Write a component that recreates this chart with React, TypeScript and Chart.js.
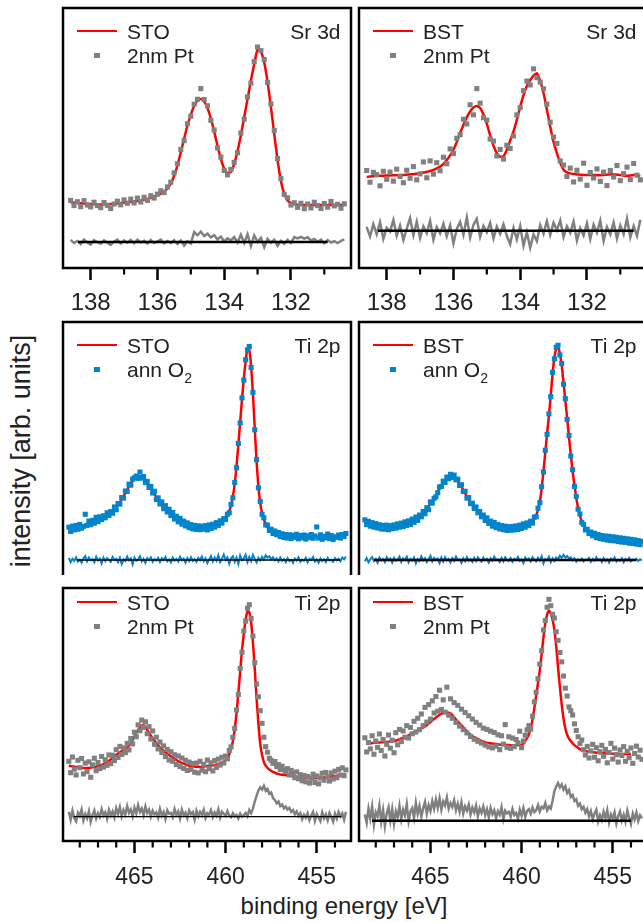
import React, { useEffect, useRef } from 'react';
import { Chart, registerables } from 'chart.js';

Chart.register(...registerables);

const FONT = '"Liberation Sans", Arial, Helvetica, sans-serif';
const GRAY = '#808080';
const BLUE = '#0085cc';
const RED = '#ff0000';
const TEXT = '#222222';

// ---------- energy grids (binding energy, eV) ----------
const SR_E = [
  138.6, 138.5, 138.4, 138.3, 138.2, 138.1, 138.0, 137.9, 137.8, 137.7,
  137.6, 137.5, 137.4, 137.3, 137.2, 137.1, 137.0, 136.9, 136.8, 136.7,
  136.6, 136.5, 136.4, 136.3, 136.2, 136.1, 136.0, 135.9, 135.8, 135.7,
  135.6, 135.5, 135.4, 135.3, 135.2, 135.1, 135.0, 134.9, 134.8, 134.7,
  134.6, 134.5, 134.4, 134.3, 134.2, 134.1, 134.0, 133.9, 133.8, 133.7,
  133.6, 133.5, 133.4, 133.3, 133.2, 133.1, 133.0, 132.9, 132.8, 132.7,
  132.6, 132.5, 132.4, 132.3, 132.2, 132.1, 132.0, 131.9, 131.8, 131.7,
  131.6, 131.5, 131.4, 131.3, 131.2, 131.1, 131.0, 130.9, 130.8, 130.7,
  130.6, 130.5, 130.4,
];

const TI_E = [
  468.6, 468.5, 468.4, 468.3, 468.2, 468.1, 468.0, 467.9, 467.8, 467.7,
  467.6, 467.5, 467.4, 467.3, 467.2, 467.1, 467.0, 466.9, 466.8, 466.7,
  466.6, 466.5, 466.4, 466.3, 466.2, 466.1, 466.0, 465.9, 465.8, 465.7,
  465.6, 465.5, 465.4, 465.3, 465.2, 465.1, 465.0, 464.9, 464.8, 464.7,
  464.6, 464.5, 464.4, 464.3, 464.2, 464.1, 464.0, 463.9, 463.8, 463.7,
  463.6, 463.5, 463.4, 463.3, 463.2, 463.1, 463.0, 462.9, 462.8, 462.7,
  462.6, 462.5, 462.4, 462.3, 462.2, 462.1, 462.0, 461.9, 461.8, 461.7,
  461.6, 461.5, 461.4, 461.3, 461.2, 461.1, 461.0, 460.9, 460.8, 460.7,
  460.6, 460.5, 460.4, 460.3, 460.2, 460.1, 460.0, 459.9, 459.8, 459.7,
  459.6, 459.5, 459.4, 459.3, 459.2, 459.1, 459.0, 458.9, 458.8, 458.7,
  458.6, 458.5, 458.4, 458.3, 458.2, 458.1, 458.0, 457.9, 457.8, 457.7,
  457.6, 457.5, 457.4, 457.3, 457.2, 457.1, 457.0, 456.9, 456.8, 456.7,
  456.6, 456.5, 456.4, 456.3, 456.2, 456.1, 456.0, 455.9, 455.8, 455.7,
  455.6, 455.5, 455.4, 455.3, 455.2, 455.1, 455.0, 454.9, 454.8, 454.7,
  454.6, 454.5, 454.4, 454.3, 454.2, 454.1, 454.0, 453.9, 453.8, 453.7,
  453.6, 453.5, 453.4,
];

// ---------- tick values / labels ----------
const SR_MAJOR = [138, 136, 134, 132];
const SR_MINOR = [137, 135, 133, 131];
const TI_MAJOR = [465, 460, 455];
const TI_MINOR = [468, 467, 466, 464, 463, 462, 461, 459, 458, 457, 456, 454];

// ---------- Sr 3d, STO reference vs 2nm Pt ----------
const STO_SR_FIT = [
  25.2, 25.1, 25.0, 24.9, 24.8, 24.7, 24.6, 24.5, 24.4, 24.4,
  24.4, 24.5, 24.6, 24.7, 24.8, 25.0, 25.1, 25.3, 25.4, 25.6,
  25.8, 26.0, 26.3, 26.6, 27.0, 27.5, 28.0, 28.6, 29.4, 30.6,
  32.5, 35.5, 39.5, 44.5, 49.8, 54.8, 59.0, 62.3, 64.4, 65.0,
  64.0, 61.5, 57.5, 52.5, 47.0, 42.0, 38.3, 36.5, 37.0, 40.0,
  45.0, 51.0, 58.0, 65.0, 72.0, 78.5, 84.0, 83.2, 79.0, 71.5,
  62.0, 51.5, 41.5, 33.5, 28.5, 26.0, 25.0, 24.5, 24.3, 24.2,
  24.2, 24.2, 24.2, 24.2, 24.2, 24.2, 24.2, 24.2, 24.2, 24.2,
  24.2, 24.2, 24.2,
];
const STO_SR_PT = [
  26.0, 24.0, 25.5, 23.6, 25.9, 24.2, 23.5, 25.3, 24.0, 23.2,
  25.2, 24.1, 22.9, 24.6, 25.7, 24.3, 26.2, 24.9, 26.5, 25.0,
  26.9, 25.4, 27.2, 26.0, 27.8, 26.9, 28.4, 29.7, 29.0, 31.2,
  33.0, 36.6, 40.1, 45.6, 49.0, 55.5, 58.4, 63.0, 64.9, 69.0,
  64.8, 62.4, 56.8, 53.1, 46.2, 42.7, 37.5, 35.8, 37.9, 40.6,
  44.3, 51.9, 57.2, 65.8, 71.1, 79.4, 85.0, 83.6, 80.2, 71.4,
  63.1, 52.9, 42.1, 34.4, 28.3, 27.0, 24.2, 25.1, 23.3, 24.9,
  22.8, 24.6, 23.1, 25.3, 24.0, 22.9, 24.8, 23.4, 25.6, 23.9,
  24.5, 23.0, 24.7,
];
const STO_SR_DIFF = [
  10.8, 9.6, 10.4, 9.2, 10.9, 9.8, 9.0, 10.7, 9.9, 9.3,
  10.6, 9.7, 8.9, 10.2, 10.9, 9.4, 10.6, 9.7, 10.8, 9.5,
  10.9, 9.8, 10.5, 9.4, 10.8, 9.6, 10.2, 10.9, 9.5, 10.4,
  9.6, 10.7, 9.3, 10.6, 8.6, 10.3, 9.4, 13.8, 12.6, 14.0,
  12.3, 13.2, 11.8, 12.6, 11.0, 12.1, 10.2, 11.4, 10.6, 11.9,
  9.8, 12.8, 9.6, 13.0, 8.4, 12.5, 10.1, 11.6, 8.0, 11.2,
  9.7, 10.9, 8.5, 10.4, 9.3, 10.8, 9.6, 11.9, 11.4, 12.0,
  11.3, 11.8, 10.6, 11.2, 10.1, 10.9, 9.5, 10.7, 9.8, 10.3,
  9.6, 10.4, 11.0,
];
const STO_SR_ZERO_X = [138.38, 130.9];
const STO_SR_ZERO_Y = [10, 10];

// ---------- Sr 3d, BST reference vs 2nm Pt ----------
const BST_SR_FIT = [
  35.0, 35.2, 35.3, 35.4, 35.5, 35.5, 35.6, 35.6, 35.7, 35.7,
  35.8, 35.8, 35.9, 36.0, 36.1, 36.3, 36.5, 36.7, 37.0, 37.3,
  37.7, 38.3, 39.0, 40.0, 41.5, 43.3, 45.5, 48.5, 52.0, 55.0,
  58.0, 60.2, 61.7, 62.3, 61.5, 59.0, 55.5, 51.0, 47.0, 44.2,
  42.8, 43.0, 45.5, 49.0, 52.5, 57.0, 62.0, 66.5, 70.0, 72.3,
  74.0, 74.9, 72.0, 67.3, 61.0, 54.3, 48.5, 44.2, 40.5, 37.8,
  36.8, 36.4, 36.2, 36.0, 35.9, 35.8, 35.8, 35.8, 35.8, 35.7,
  35.7, 35.8, 35.9, 36.0, 36.0, 35.9, 35.8, 35.6, 35.5, 35.6,
  35.8, 35.6, 35.4,
];
const BST_SR_PT = [
  37.5, 33.0, 36.8, 35.9, 31.6, 37.2, 34.1, 36.9, 33.4, 38.0,
  35.2, 32.8, 37.6, 34.5, 39.0, 33.9, 36.2, 40.8, 34.7, 41.2,
  36.1, 40.5, 37.4, 42.6, 40.1, 45.8, 44.0, 49.9, 51.3, 57.2,
  55.4, 62.8, 58.9, 69.0, 63.4, 57.8, 56.9, 49.6, 48.8, 43.1,
  45.6, 41.9, 47.2, 46.0, 50.8, 58.9, 61.7, 68.2, 71.9, 70.4,
  76.6, 73.2, 71.5, 68.9, 63.0, 56.1, 50.4, 47.9, 41.2, 39.6,
  35.2, 38.4, 33.1, 37.6, 34.2, 40.3, 31.8, 36.7, 34.6, 38.1,
  33.3, 36.9, 31.7, 37.5, 35.0, 39.4, 33.6, 36.3, 38.8, 34.0,
  40.2, 35.7, 33.9,
];
const BST_SR_DIFF = [
  15.8, 12.1, 16.9, 13.0, 17.6, 11.2, 15.5, 14.0, 18.5, 12.4,
  16.3, 10.8, 15.1, 19.2, 12.6, 17.8, 11.5, 16.0, 13.4, 18.1,
  10.9, 15.7, 13.3, 17.0, 12.2, 16.4, 9.5, 15.0, 17.7, 12.8,
  19.4, 11.7, 16.6, 18.9, 12.0, 16.2, 13.8, 17.3, 11.4, 15.9,
  13.1, 16.8, 12.3, 9.2, 15.4, 11.0, 16.1, 8.6, 13.7, 7.8,
  12.9, 10.3, 16.5, 13.2, 18.0, 12.7, 17.4, 14.6, 18.3, 11.9,
  16.0, 13.5, 17.9, 10.6, 15.3, 12.5, 17.2, 11.1, 16.7, 13.6,
  18.2, 10.4, 15.8, 12.9, 17.5, 11.3, 16.4, 13.0, 19.0, 11.8,
  16.1, 12.4, 18.6,
];
const BST_SR_ZERO_X = [138.26, 130.6];
const BST_SR_ZERO_Y = [14.3, 14.3];

// ---------- Ti 2p, STO reference vs annealed in O2 ----------
const STO_TI_FIT_O2 = [
  18.0, 18.2, 18.4, 18.6, 18.8, 19.0, 19.2, 19.4, 19.6, 19.9,
  20.2, 20.5, 20.8, 21.1, 21.4, 21.7, 22.0, 22.3, 22.6, 23.0,
  23.4, 23.8, 24.3, 24.8, 25.4, 26.1, 26.9, 27.8, 28.8, 29.9,
  31.1, 32.4, 33.7, 35.0, 36.2, 37.2, 38.0, 38.6, 38.9, 39.0,
  38.7, 38.1, 37.3, 36.3, 35.2, 34.1, 33.0, 31.9, 30.9, 29.9,
  28.9, 28.0, 27.1, 26.3, 25.5, 24.8, 24.1, 23.4, 22.8, 22.2,
  21.7, 21.2, 20.8, 20.4, 20.0, 19.7, 19.4, 19.2, 19.0, 18.9,
  18.8, 18.7, 18.7, 18.7, 18.7, 18.8, 18.9, 19.0, 19.2, 19.4,
  19.6, 19.9, 20.2, 20.6, 21.1, 21.7, 22.5, 23.6, 25.2, 27.6,
  31.0, 36.0, 43.0, 51.5, 60.5, 69.5, 77.5, 84.5, 89.5, 89.0,
  82.5, 71.5, 58.0, 45.0, 35.0, 28.5, 24.5, 22.0, 20.3, 19.1,
  18.2, 17.5, 17.0, 16.6, 16.3, 16.0, 15.8, 15.6, 15.5, 15.4,
  15.3, 15.2, 15.2, 15.2, 15.2, 15.1, 15.1, 15.1, 15.1, 15.1,
  15.0, 15.0, 15.0, 15.0, 15.0, 15.0, 15.0, 15.0, 15.0, 15.0,
  15.0, 15.0, 15.0, 15.0, 15.0, 15.0, 15.0, 15.1, 15.2, 15.3,
  15.4, 15.5, 15.6,
];
const STO_TI_O2 = [
  18.9, 17.2, 19.3, 17.8, 19.6, 18.1, 20.0, 18.5, 19.2, 24.0,
  19.6, 21.3, 19.9, 21.6, 20.5, 22.8, 21.1, 23.0, 21.9, 23.4,
  22.6, 24.6, 23.5, 25.1, 24.4, 26.9, 25.8, 28.3, 28.0, 30.6,
  30.4, 33.2, 33.0, 35.9, 35.5, 37.9, 38.4, 39.1, 38.2, 40.7,
  38.3, 38.9, 36.6, 37.0, 34.6, 35.0, 32.4, 33.1, 29.8, 30.5,
  28.1, 28.9, 26.2, 27.4, 24.9, 26.0, 23.5, 24.7, 22.1, 23.2,
  21.0, 22.4, 20.1, 21.3, 19.4, 20.6, 18.7, 19.9, 18.2, 19.6,
  18.0, 19.4, 17.9, 19.3, 18.1, 19.5, 17.8, 19.8, 18.4, 20.1,
  18.9, 20.7, 19.6, 21.4, 20.5, 22.3, 21.9, 24.0, 24.6, 27.9,
  30.5, 36.6, 42.4, 52.0, 60.1, 70.0, 77.0, 85.1, 89.0, 90.3,
  82.0, 72.2, 57.4, 45.6, 34.5, 29.1, 24.0, 22.6, 19.8, 19.7,
  17.6, 18.1, 16.4, 17.4, 15.9, 16.8, 15.2, 16.3, 14.8, 16.0,
  14.6, 15.9, 14.4, 15.7, 14.9, 16.1, 14.3, 15.6, 14.7, 15.8,
  14.2, 15.5, 14.8, 16.0, 14.5, 15.4, 19.0, 14.6, 15.9, 14.1,
  15.3, 14.7, 16.2, 14.4, 15.6, 14.0, 15.1, 14.9, 15.8, 14.6,
  16.0, 15.2, 16.4,
];
const STO_TI_O2_DIFF = [
  6.8, 5.1, 6.4, 5.6, 7.0, 5.3, 6.1, 4.9, 6.6, 7.5,
  5.4, 6.9, 5.8, 6.3, 5.0, 7.2, 5.7, 6.5, 4.6, 6.9,
  5.5, 6.7, 6.0, 5.2, 7.1, 5.9, 6.4, 5.1, 6.8, 4.3,
  6.2, 5.5, 7.3, 5.8, 6.6, 4.2, 6.9, 5.6, 6.1, 7.4,
  5.3, 6.4, 4.8, 6.7, 5.9, 7.0, 5.2, 6.3, 5.7, 6.8,
  5.1, 6.6, 5.9, 7.1, 5.4, 6.2, 5.0, 6.9, 5.7, 6.4,
  5.3, 7.2, 5.8, 6.5, 4.9, 6.7, 5.5, 7.0, 5.6, 6.3,
  5.2, 6.8, 5.9, 7.3, 5.4, 6.6, 4.7, 6.1, 7.5, 5.3,
  6.9, 5.6, 7.8, 5.1, 6.4, 8.1, 5.9, 7.0, 4.5, 6.6,
  7.4, 5.2, 6.9, 4.4, 7.7, 5.8, 6.5, 8.0, 5.1, 7.1,
  5.5, 7.9, 6.4, 5.0, 6.8, 5.7, 7.2, 6.1, 7.8, 6.9,
  7.4, 6.2, 7.0, 5.8, 6.6, 5.4, 6.9, 5.6, 6.3, 5.1,
  6.7, 5.5, 6.0, 4.8, 6.5, 5.7, 6.9, 5.2, 6.1, 5.6,
  6.8, 5.0, 6.4, 5.9, 7.1, 5.3, 6.2, 4.9, 6.6, 5.5,
  6.3, 5.1, 6.8, 5.7, 6.0, 5.2, 6.7, 5.8, 6.4, 5.4,
  6.9, 6.2, 7.3,
];
const STO_TI_O2_ZERO_X = [468.16, 453.72];
const STO_TI_O2_ZERO_Y = [5.9, 5.9];

// ---------- Ti 2p, BST reference vs annealed in O2 ----------
const BST_TI_FIT_O2 = [
  20.6, 20.4, 20.2, 20.0, 19.8, 19.6, 19.4, 19.3, 19.1, 19.0,
  18.9, 18.9, 18.8, 18.8, 18.8, 18.9, 19.0, 19.1, 19.3, 19.5,
  19.6, 19.8, 20.0, 20.2, 20.5, 20.8, 21.1, 21.4, 21.7, 22.1,
  22.8, 23.7, 24.6, 25.5, 26.4, 27.3, 28.2, 29.1, 30.0, 31.4,
  32.8, 34.2, 35.4, 36.4, 37.3, 38.0, 38.5, 38.8, 38.9, 38.6,
  38.0, 37.2, 36.1, 34.9, 33.6, 32.3, 31.0, 29.8, 28.7, 27.8,
  27.0, 26.1, 25.2, 24.4, 23.6, 22.9, 22.2, 21.6, 21.0, 20.5,
  20.1, 19.7, 19.4, 19.1, 18.9, 18.7, 18.6, 18.5, 18.4, 18.4,
  18.4, 18.4, 18.5, 18.6, 18.7, 18.9, 19.1, 19.3, 19.6, 19.9,
  20.2, 20.6, 21.2, 22.2, 23.6, 25.8, 29.0, 34.0, 41.0, 48.5,
  56.0, 63.0, 71.0, 79.5, 86.0, 89.5, 90.3, 87.5, 83.0, 76.0,
  69.0, 62.0, 54.5, 47.5, 41.0, 35.5, 30.5, 26.5, 23.5, 21.2,
  19.5, 18.3, 17.5, 16.9, 16.4, 16.0, 15.7, 15.4, 15.2, 15.0,
  14.8, 14.7, 14.6, 14.5, 14.4, 14.3, 14.2, 14.1, 14.0, 13.9,
  13.8, 13.7, 13.6, 13.5, 13.4, 13.3, 13.2, 13.1, 13.0, 12.9,
  12.8, 12.7, 12.6,
];
const BST_TI_O2 = [
  21.8, 19.9, 21.2, 19.3, 20.7, 18.9, 20.3, 18.6, 19.9, 18.2,
  19.6, 18.1, 19.7, 17.9, 19.5, 18.3, 19.8, 18.5, 20.2, 18.9,
  20.5, 19.1, 21.0, 19.6, 21.4, 20.0, 22.1, 20.8, 22.9, 21.6,
  23.7, 23.0, 25.1, 24.2, 26.6, 25.8, 28.9, 28.4, 30.3, 30.9,
  32.5, 34.8, 35.0, 37.1, 36.6, 38.7, 38.1, 39.8, 38.5, 39.5,
  37.6, 37.9, 35.4, 35.7, 33.0, 33.1, 30.4, 30.6, 28.2, 28.4,
  26.3, 26.9, 24.6, 25.1, 23.0, 23.7, 21.5, 22.6, 20.4, 21.3,
  19.3, 20.8, 18.7, 20.0, 18.2, 19.5, 17.9, 19.3, 17.6, 19.1,
  17.7, 19.2, 17.8, 19.4, 18.0, 19.7, 18.4, 20.2, 18.9, 20.6,
  19.5, 21.3, 20.5, 22.9, 23.0, 26.4, 28.6, 34.9, 40.7, 49.3,
  55.6, 63.7, 70.5, 80.1, 85.4, 90.0, 90.8, 87.0, 83.6, 75.4,
  69.7, 61.5, 55.1, 47.0, 41.6, 35.0, 31.1, 26.0, 24.1, 20.7,
  20.0, 17.8, 18.1, 16.4, 17.0, 15.5, 16.5, 14.8, 16.0, 14.4,
  15.6, 14.1, 15.4, 13.8, 15.3, 13.6, 15.1, 13.5, 14.9, 13.2,
  14.7, 13.0, 14.5, 12.9, 14.3, 12.6, 14.1, 12.5, 13.9, 12.2,
  13.6, 12.0, 13.3,
];
const BST_TI_O2_DIFF = [
  5.4, 6.7, 5.0, 6.2, 7.1, 5.5, 6.4, 4.8, 6.9, 5.7,
  6.3, 5.1, 7.0, 5.8, 6.5, 4.9, 6.8, 5.6, 6.1, 7.3,
  5.2, 6.6, 5.9, 7.2, 5.0, 6.4, 5.7, 6.9, 4.6, 6.3,
  5.5, 7.4, 5.8, 6.7, 5.1, 6.2, 7.6, 5.4, 6.8, 5.9,
  6.5, 4.7, 6.9, 5.3, 7.0, 5.8, 6.4, 5.0, 6.7, 5.6,
  7.3, 5.9, 6.2, 4.8, 6.6, 5.4, 7.1, 5.7, 6.3, 5.2,
  6.8, 5.5, 7.0, 6.1, 5.3, 6.9, 5.8, 6.4, 4.9, 6.6,
  5.6, 7.2, 5.9, 6.3, 5.1, 6.8, 5.4, 7.0, 6.0, 5.5,
  6.7, 5.2, 6.4, 5.8, 7.1, 5.6, 6.2, 4.7, 6.9, 5.9,
  6.5, 5.3, 7.0, 6.1, 5.4, 6.8, 5.7, 7.4, 4.6, 6.3,
  5.8, 7.2, 5.1, 6.6, 5.5, 6.9, 6.2, 7.6, 6.8, 8.0,
  6.9, 7.5, 6.4, 7.0, 5.8, 6.6, 5.3, 6.2, 5.7, 6.5,
  5.4, 6.1, 5.9, 6.8, 5.2, 6.4, 5.6, 7.0, 5.8, 6.3,
  5.1, 6.7, 5.5, 6.2, 4.9, 6.5, 5.7, 6.9, 5.3, 6.0,
  5.6, 6.6, 5.0, 6.3, 5.8, 6.8, 5.4, 6.1, 5.9, 6.4,
  5.5, 6.2, 5.8,
];
const BST_TI_O2_ZERO_X = [468.1, 453.7];
const BST_TI_O2_ZERO_Y = [5.9, 5.9];

// ---------- Ti 2p, STO reference vs 2nm Pt ----------
const STO_TI_FIT_PT = [
  29.8, 29.6, 29.5, 29.4, 29.3, 29.2, 29.1, 29.0, 28.9, 28.9,
  28.9, 28.9, 29.0, 29.1, 29.2, 29.4, 29.6, 29.8, 30.1, 30.4,
  30.8, 31.2, 31.7, 32.2, 32.8, 33.4, 34.0, 34.6, 35.1, 35.5,
  35.9, 36.3, 36.9, 37.7, 38.8, 40.0, 41.3, 42.6, 43.8, 44.8,
  45.6, 45.8, 45.0, 43.9, 42.7, 41.6, 40.6, 39.6, 38.7, 37.8,
  37.0, 36.3, 35.6, 35.0, 34.5, 34.0, 33.5, 33.0, 32.5, 32.0,
  31.6, 31.2, 30.9, 30.6, 30.3, 30.0, 29.8, 29.6, 29.5, 29.4,
  29.3, 29.3, 29.3, 29.3, 29.4, 29.5, 29.6, 29.7, 29.8, 29.9,
  30.0, 30.2, 30.4, 30.7, 31.0, 31.4, 32.0, 32.9, 34.3, 36.5,
  39.5, 44.0, 50.5, 58.5, 67.0, 75.5, 82.0, 87.5, 90.8, 90.5,
  86.5, 78.5, 68.0, 56.5, 46.5, 38.5, 34.0, 31.2, 29.8, 28.9,
  28.2, 27.7, 27.3, 27.0, 26.7, 26.5, 26.3, 26.2, 26.1, 26.0,
  25.9, 25.8, 25.7, 25.6, 25.5, 25.4, 25.3, 25.2, 25.1, 25.0,
  25.0, 24.9, 24.9, 24.8, 24.8, 24.8, 24.8, 24.9, 24.9, 25.0,
  25.1, 25.2, 25.3, 25.4, 25.5, 25.6, 25.7, 25.8, 25.9, 26.0,
  26.1, 26.2, 26.3,
];
const STO_TI_PT = [
  31.5, 27.0, 33.2, 28.4, 26.1, 31.9, 29.0, 32.6, 26.5, 30.8,
  27.4, 31.3, 25.2, 30.1, 32.7, 27.8, 31.0, 28.6, 33.4, 29.2,
  32.1, 29.9, 34.0, 30.6, 33.9, 31.8, 36.1, 33.0, 37.4, 34.2,
  36.8, 34.9, 38.6, 36.0, 40.5, 38.4, 43.0, 41.2, 45.9, 43.6,
  47.8, 44.9, 47.1, 42.4, 45.2, 40.3, 43.5, 38.2, 41.0, 36.4,
  39.1, 35.0, 37.6, 33.4, 36.2, 32.0, 35.3, 31.5, 34.1, 30.2,
  33.6, 29.4, 32.8, 28.7, 31.9, 27.9, 31.2, 28.3, 30.6, 27.2,
  30.8, 26.9, 31.5, 28.0, 30.3, 27.4, 32.0, 28.6, 30.9, 27.7,
  31.8, 29.1, 32.4, 30.0, 33.1, 30.8, 33.6, 32.5, 35.8, 37.2,
  41.0, 44.5, 51.8, 57.9, 68.2, 74.6, 83.0, 86.9, 92.0, 93.4,
  88.0, 81.0, 70.5, 62.0, 57.0, 51.5, 46.5, 41.0, 37.3, 35.1,
  32.7, 31.9, 30.7, 31.4, 29.4, 30.2, 28.3, 29.6, 28.1, 27.4,
  28.6, 26.1, 27.9, 26.8, 25.0, 27.3, 24.6, 26.2, 23.8, 25.9,
  23.4, 25.5, 22.9, 24.8, 26.4, 23.1, 25.7, 22.6, 24.9, 26.8,
  24.0, 27.1, 25.3, 23.7, 26.9, 24.5, 27.6, 25.0, 28.3, 26.1,
  28.9, 25.8, 28.1,
];
const STO_TI_PT_DIFF = [
  11.6, 8.4, 12.0, 9.1, 7.8, 11.2, 9.9, 12.4, 8.2, 10.7,
  9.0, 11.8, 7.6, 10.3, 12.1, 8.9, 11.0, 9.5, 12.6, 10.1,
  11.4, 8.8, 12.3, 10.0, 11.7, 9.3, 12.9, 10.6, 13.4, 9.7,
  12.2, 10.4, 13.8, 11.1, 12.5, 9.8, 13.1, 10.9, 14.2, 11.5,
  12.8, 10.2, 13.6, 11.0, 12.4, 9.6, 12.0, 10.5, 11.3, 9.2,
  12.7, 10.0, 11.5, 8.7, 12.2, 10.8, 11.1, 9.4, 12.6, 10.3,
  11.7, 8.9, 12.4, 10.1, 11.2, 9.0, 12.1, 10.6, 11.4, 8.5,
  12.0, 9.8, 11.5, 10.2, 12.3, 9.1, 11.0, 10.4, 12.2, 9.5,
  11.3, 10.0, 12.5, 9.3, 11.6, 10.7, 9.9, 11.8, 10.1, 9.4,
  11.0, 9.7, 10.3, 8.9, 10.8, 9.6, 10.2, 11.1, 9.8, 12.3,
  11.0, 12.8, 15.6, 17.8, 20.0, 21.2, 20.3, 21.8, 19.9, 20.6,
  18.7, 19.2, 17.0, 16.2, 14.9, 15.6, 13.8, 14.4, 12.9, 13.6,
  12.4, 13.1, 11.5, 12.2, 10.6, 11.7, 9.9, 11.0, 8.6, 10.4,
  9.2, 11.0, 8.3, 10.1, 11.5, 8.0, 10.7, 9.4, 7.9, 11.3,
  9.0, 10.5, 8.2, 11.1, 9.6, 7.7, 10.8, 8.8, 11.4, 9.7,
  10.9, 8.4, 11.6,
];
const STO_TI_PT_ZERO_X = [468.33, 453.63];
const STO_TI_PT_ZERO_Y = [9.6, 9.6];

// ---------- Ti 2p, BST reference vs 2nm Pt ----------
const BST_TI_FIT_PT = [
  null, null, null, 38.6, 38.7, 38.8, 38.8, 38.9, 38.9, 39.0,
  39.0, 39.1, 39.1, 39.2, 39.2, 39.3, 39.5, 39.7, 39.9, 40.2,
  40.5, 40.8, 41.1, 41.4, 41.8, 42.2, 42.5, 42.9, 43.3, 43.7,
  44.1, 44.5, 44.9, 45.3, 45.8, 46.4, 47.0, 47.6, 48.2, 48.8,
  49.4, 49.9, 50.3, 50.6, 50.8, 50.8, 50.7, 50.5, 49.8, 48.9,
  48.0, 47.2, 46.5, 45.7, 44.9, 44.1, 43.3, 42.6, 42.0, 41.5,
  41.1, 40.7, 40.3, 39.9, 39.6, 39.3, 39.0, 38.8, 38.7, 38.6,
  38.5, 38.4, 38.3, 38.2, 38.1, 38.0, 38.0, 37.9, 37.9, 37.9,
  37.8, 37.8, 37.8, 37.8, 37.9, 37.9, 38.0, 38.6, 39.6, 40.8,
  42.2, 44.5, 48.0, 52.5, 57.5, 62.5, 67.5, 74.0, 80.5, 86.0,
  89.5, 91.0, 90.0, 87.5, 83.5, 77.0, 68.5, 61.0, 54.0, 48.5,
  44.5, 42.0, 40.5, 39.5, 38.6, 37.9, 37.3, 36.8, 36.3, 36.0,
  35.8, 35.6, 35.4, 35.3, 35.2, 35.1, 35.0, 34.9, 34.8, 34.7,
  34.7, 34.7, 34.6, 34.6, 34.6, 34.5, 34.5, 34.5, 34.5, 34.4,
  34.4, 34.4, 34.4, 34.4, 34.4, 34.4, 34.4, null, null, null,
  null, null, null,
];
const BST_TI_PT = [
  40.8, 35.2, 38.9, 36.4, 41.6, 34.3, 39.5, 37.0, 42.3, 35.8,
  40.1, 33.6, 38.2, 41.9, 36.7, 39.8, 34.9, 42.8, 38.0, 44.1,
  39.3, 43.5, 41.0, 45.6, 40.7, 44.9, 42.4, 47.3, 43.1, 48.5,
  44.0, 50.2, 45.6, 52.8, 47.0, 53.9, 48.2, 55.4, 50.6, 57.1,
  51.3, 59.6, 52.0, 55.8, 50.9, 60.8, 49.7, 56.2, 48.5, 54.7,
  46.9, 53.6, 45.4, 52.1, 44.0, 50.8, 42.7, 49.5, 41.3, 48.2,
  40.2, 46.9, 39.4, 45.8, 38.7, 44.6, 37.9, 44.1, 37.2, 43.4,
  36.8, 42.9, 37.5, 42.0, 36.1, 41.6, 38.3, 46.0, 37.0, 41.2,
  36.6, 40.7, 37.3, 40.1, 38.8, 43.4, 36.9, 39.5, 41.8, 43.9,
  45.6, 44.2, 49.3, 55.0, 58.8, 64.1, 69.9, 75.2, 83.4, 87.1,
  92.4, 95.5, 93.0, 89.6, 88.1, 82.7, 79.3, 74.5, 70.8, 65.2,
  60.4, 57.3, 53.0, 51.5, 49.8, 46.3, 43.7, 41.2, 38.5, 39.9,
  36.1, 34.0, 37.4, 32.8, 35.6, 38.2, 33.1, 36.9, 31.7, 35.3,
  37.8, 33.5, 36.2, 30.9, 35.0, 38.6, 32.4, 36.7, 34.1, 31.2,
  36.0, 33.8, 37.3, 31.5, 35.4, 32.9, 36.8, 30.7, 34.6, 37.5,
  33.2, 35.9, 32.3,
];
const BST_TI_PT_DIFF = [
  10.5, 7.2, 12.8, 8.9, 13.6, 6.5, 11.4, 9.8, 14.1, 7.7,
  12.2, 5.9, 10.9, 13.3, 8.1, 12.6, 6.8, 11.7, 9.4, 13.9,
  8.6, 12.4, 10.1, 14.5, 7.9, 11.6, 13.0, 9.2, 15.1, 10.7,
  13.8, 9.6, 12.9, 15.4, 10.8, 14.2, 11.9, 15.8, 12.7, 16.4,
  13.1, 16.9, 12.4, 15.6, 14.0, 17.2, 12.8, 15.0, 13.5, 16.1,
  12.2, 14.8, 11.6, 15.3, 10.9, 13.7, 12.0, 14.4, 10.5, 13.2,
  11.3, 14.0, 9.8, 12.9, 11.1, 13.6, 10.2, 12.5, 9.4, 13.1,
  10.6, 12.2, 9.1, 11.8, 10.4, 13.4, 8.7, 12.0, 10.9, 11.5,
  9.6, 12.7, 10.3, 11.1, 8.8, 12.4, 10.0, 13.0, 9.5, 11.9,
  12.6, 10.8, 13.3, 11.4, 12.1, 14.2, 11.7, 13.5, 12.9, 15.0,
  12.1, 13.6, 12.8, 15.9, 19.7, 21.5, 22.9, 21.2, 22.4, 20.3,
  21.6, 19.0, 20.1, 17.4, 18.2, 15.8, 16.5, 13.9, 14.8, 12.6,
  13.5, 11.2, 12.6, 9.7, 11.8, 8.6, 10.9, 12.4, 7.8, 10.2,
  8.3, 11.6, 9.0, 12.1, 7.4, 10.5, 8.9, 11.3, 6.9, 9.8,
  11.7, 8.1, 10.4, 7.6, 12.0, 9.2, 6.8, 10.8, 8.5, 11.2,
  7.9, 10.1, 9.0,
];
const BST_TI_PT_ZERO_X = [468.2, 454.0];
const BST_TI_PT_ZERO_Y = [8.0, 8.0];

// ---------- text ----------
const X_TITLE = 'binding energy [eV]';
const Y_TITLE = 'intensity [arb. units]';

type Pt = { x: number; y: number | null };
const pts = (xs: number[], ys: (number | null)[]): Pt[] => xs.map((x, i) => ({ x, y: ys[i] }));

type PanelCfg = {
  key: string;
  left: number; top: number; width: number; height: number;
  xMin: number; xMax: number;
  axis: boolean; bottomFrame: boolean;
  major: number[]; minor: number[];
  tickSize: number; tickPad: number;
  energy: number[]; fit: (number | null)[]; data: number[]; diff: number[];
  zeroX: number[]; zeroY: number[];
  dataColor: string; diffWidth: number; zeroWidth: number;
  refLabel: string; sampleKind: 'pt' | 'o2'; core: string; legendY: number;
};

const PAD_L = 10, PAD_R = 10, PAD_T = 6, AX_H = 50;

const framePlugin = {
  id: 'frame',
  afterDraw(chart: any, _args: any, opts: any) {
    const { ctx, chartArea: a } = chart;
    ctx.save();
    ctx.strokeStyle = '#000';
    ctx.lineWidth = 2.5;
    ctx.lineJoin = 'miter';
    ctx.beginPath();
    if (opts.bottom) {
      ctx.rect(a.left, a.top, a.right - a.left, a.bottom - a.top);
    } else {
      ctx.moveTo(a.left, a.bottom);
      ctx.lineTo(a.left, a.top);
      ctx.lineTo(a.right, a.top);
      ctx.lineTo(a.right, a.bottom);
    }
    ctx.stroke();
    if (opts.minor && opts.minor.length) {
      const xs = chart.scales.x;
      ctx.lineWidth = 2.2;
      for (const v of opts.minor) {
        const px = xs.getPixelForValue(v);
        ctx.beginPath();
        ctx.moveTo(px, a.bottom);
        ctx.lineTo(px, a.bottom + 6.5);
        ctx.stroke();
      }
    }
    ctx.restore();
  },
};

function PanelChart({ p }: { p: PanelCfg }) {
  const ref = useRef<HTMLCanvasElement>(null);
  const cw = p.width + PAD_L + PAD_R;
  const padB = p.axis ? 0 : 4;
  const ch = p.height + PAD_T + (p.axis ? AX_H : 0) + padB;

  useEffect(() => {
    if (!ref.current) return;
    const chart = new Chart(ref.current, {
      type: 'line',
      data: {
        datasets: [
          {
            label: 'data', data: pts(p.energy, p.data), showLine: false,
            pointStyle: 'rect', pointRadius: 3.6, pointHoverRadius: 3.6,
            pointBackgroundColor: p.dataColor, pointBorderWidth: 0,
            borderColor: p.dataColor, clip: 0,
          },
          {
            label: 'fit', data: pts(p.energy, p.fit), borderColor: RED, borderWidth: 2.5,
            pointRadius: 0, tension: 0.2, clip: 0,
          },
          {
            label: 'zero', data: pts(p.zeroX, p.zeroY), borderColor: '#000',
            borderWidth: p.zeroWidth, pointRadius: 0, clip: 0,
          },
          {
            label: 'diff', data: pts(p.energy, p.diff), borderColor: p.dataColor,
            borderWidth: p.diffWidth, pointRadius: 0, clip: 0,
          },
        ],
      } as any,
      options: {
        animation: false,
        responsive: false,
        events: [],
        layout: { padding: { left: PAD_L, right: PAD_R, top: PAD_T, bottom: padB } },
        plugins: {
          legend: { display: false },
          tooltip: { enabled: false },
          frame: { bottom: p.bottomFrame, minor: p.axis ? p.minor : [] },
        } as any,
        scales: {
          x: {
            type: 'linear',
            reverse: true,
            min: p.xMin,
            max: p.xMax,
            display: p.axis,
            afterBuildTicks: (s: any) => { s.ticks = p.major.map((v) => ({ value: v })); },
            afterFit: (s: any) => {
              if (p.axis) { s.height = AX_H; s.paddingLeft = 0; s.paddingRight = 0; }
            },
            grid: {
              display: true, drawOnChartArea: false, drawTicks: true,
              tickLength: 12, tickWidth: 2.5, tickColor: '#000',
            },
            border: { display: false },
            ticks: {
              autoSkip: false, maxRotation: 0, padding: p.tickPad, color: TEXT,
              font: { family: FONT, size: p.tickSize },
              callback: (v: any) => String(v),
            },
          },
          y: { display: false, min: 0, max: 100 },
        },
      } as any,
      plugins: [framePlugin as any],
    });
    return () => chart.destroy();
  }, []);

  return (
    <canvas
      ref={ref}
      width={cw}
      height={ch}
      style={{ position: 'absolute', left: p.left - PAD_L, top: p.top - PAD_T, width: cw, height: ch }}
    />
  );
}

function Legend({ p }: { p: PanelCfg }) {
  const r1 = p.top + p.legendY;
  const r2 = r1 + 24.5;
  const txt: React.CSSProperties = {
    position: 'absolute', fontSize: 21, lineHeight: '21px', color: TEXT, whiteSpace: 'nowrap',
  };
  return (
    <>
      <div style={{ position: 'absolute', left: p.left + 14, top: r1 - 1.25, width: 40, height: 2.5, background: RED }} />
      <div style={{ ...txt, left: p.left + 64, top: r1 - 10.5 }}>{p.refLabel}</div>
      <div style={{ position: 'absolute', left: p.left + 34 - 2.6, top: r2 - 2.6, width: 5.2, height: 5.2, background: p.dataColor }} />
      <div style={{ ...txt, left: p.left + 64, top: r2 - 10.5 }}>
        {p.sampleKind === 'pt' ? '2nm Pt' : (
          <>ann O<span style={{ fontSize: 14, position: 'relative', top: 6 }}>2</span></>
        )}
      </div>
      <div style={{ ...txt, left: p.left + 277.5, top: r1 - 10.5, transform: 'translateX(-100%)' }}>{p.core}</div>
    </>
  );
}

const SR_RANGE = { xMin: 130.2, xMax: 138.83 };
const TI_RANGE = { xMin: 453.12, xMax: 468.92 };

const PANELS: PanelCfg[] = [
  {
    key: 'tl', left: 63, top: 8, width: 288, height: 260, ...SR_RANGE,
    axis: true, bottomFrame: true, major: SR_MAJOR, minor: SR_MINOR, tickSize: 24, tickPad: 9,
    energy: SR_E, fit: STO_SR_FIT, data: STO_SR_PT, diff: STO_SR_DIFF,
    zeroX: STO_SR_ZERO_X, zeroY: STO_SR_ZERO_Y,
    dataColor: GRAY, diffWidth: 2.5, zeroWidth: 2.5,
    refLabel: 'STO', sampleKind: 'pt', core: 'Sr 3d', legendY: 23,
  },
  {
    key: 'tr', left: 359, top: 8, width: 288, height: 260, ...SR_RANGE,
    axis: true, bottomFrame: true, major: SR_MAJOR, minor: SR_MINOR, tickSize: 24, tickPad: 9,
    energy: SR_E, fit: BST_SR_FIT, data: BST_SR_PT, diff: BST_SR_DIFF,
    zeroX: BST_SR_ZERO_X, zeroY: BST_SR_ZERO_Y,
    dataColor: GRAY, diffWidth: 2.5, zeroWidth: 2.5,
    refLabel: 'BST', sampleKind: 'pt', core: 'Sr 3d', legendY: 23,
  },
  {
    key: 'ml', left: 63, top: 322, width: 288, height: 253, ...TI_RANGE,
    axis: false, bottomFrame: false, major: TI_MAJOR, minor: TI_MINOR, tickSize: 23, tickPad: 11,
    energy: TI_E, fit: STO_TI_FIT_O2, data: STO_TI_O2, diff: STO_TI_O2_DIFF,
    zeroX: STO_TI_O2_ZERO_X, zeroY: STO_TI_O2_ZERO_Y,
    dataColor: BLUE, diffWidth: 2, zeroWidth: 1.5,
    refLabel: 'STO', sampleKind: 'o2', core: 'Ti 2p', legendY: 23,
  },
  {
    key: 'mr', left: 359, top: 322, width: 288, height: 253, ...TI_RANGE,
    axis: false, bottomFrame: false, major: TI_MAJOR, minor: TI_MINOR, tickSize: 23, tickPad: 11,
    energy: TI_E, fit: BST_TI_FIT_O2, data: BST_TI_O2, diff: BST_TI_O2_DIFF,
    zeroX: BST_TI_O2_ZERO_X, zeroY: BST_TI_O2_ZERO_Y,
    dataColor: BLUE, diffWidth: 2, zeroWidth: 2.5,
    refLabel: 'BST', sampleKind: 'o2', core: 'Ti 2p', legendY: 23,
  },
  {
    key: 'bl', left: 63, top: 588, width: 288, height: 253, ...TI_RANGE,
    axis: true, bottomFrame: true, major: TI_MAJOR, minor: TI_MINOR, tickSize: 23, tickPad: 11,
    energy: TI_E, fit: STO_TI_FIT_PT, data: STO_TI_PT, diff: STO_TI_PT_DIFF,
    zeroX: STO_TI_PT_ZERO_X, zeroY: STO_TI_PT_ZERO_Y,
    dataColor: GRAY, diffWidth: 2.5, zeroWidth: 1.2,
    refLabel: 'STO', sampleKind: 'pt', core: 'Ti 2p', legendY: 14,
  },
  {
    key: 'br', left: 359, top: 588, width: 288, height: 253, ...TI_RANGE,
    axis: true, bottomFrame: true, major: TI_MAJOR, minor: TI_MINOR, tickSize: 23, tickPad: 11,
    energy: TI_E, fit: BST_TI_FIT_PT, data: BST_TI_PT, diff: BST_TI_PT_DIFF,
    zeroX: BST_TI_PT_ZERO_X, zeroY: BST_TI_PT_ZERO_Y,
    dataColor: GRAY, diffWidth: 2.5, zeroWidth: 2.5,
    refLabel: 'BST', sampleKind: 'pt', core: 'Ti 2p', legendY: 14,
  },
];

export default function App() {
  return (
    <div
      style={{
        position: 'fixed', left: 0, top: 0, width: 643, height: 922, overflow: 'hidden',
        background: '#fff', fontFamily: FONT,
      }}
    >
      {PANELS.map((p) => <PanelChart key={p.key} p={p} />)}
      {PANELS.map((p) => <Legend key={'lg' + p.key} p={p} />)}
      <div
        style={{
          position: 'absolute', left: 344, top: 894, transform: 'translateX(-50%)',
          fontSize: 24, lineHeight: '24px', color: TEXT, whiteSpace: 'nowrap',
        }}
      >
        {X_TITLE}
      </div>
      <div
        style={{
          position: 'absolute', left: 21, top: 451, transform: 'translate(-50%, -50%) rotate(-90deg)',
          fontSize: 27, lineHeight: '27px', color: TEXT, whiteSpace: 'nowrap',
        }}
      >
        {Y_TITLE}
      </div>
    </div>
  );
}
